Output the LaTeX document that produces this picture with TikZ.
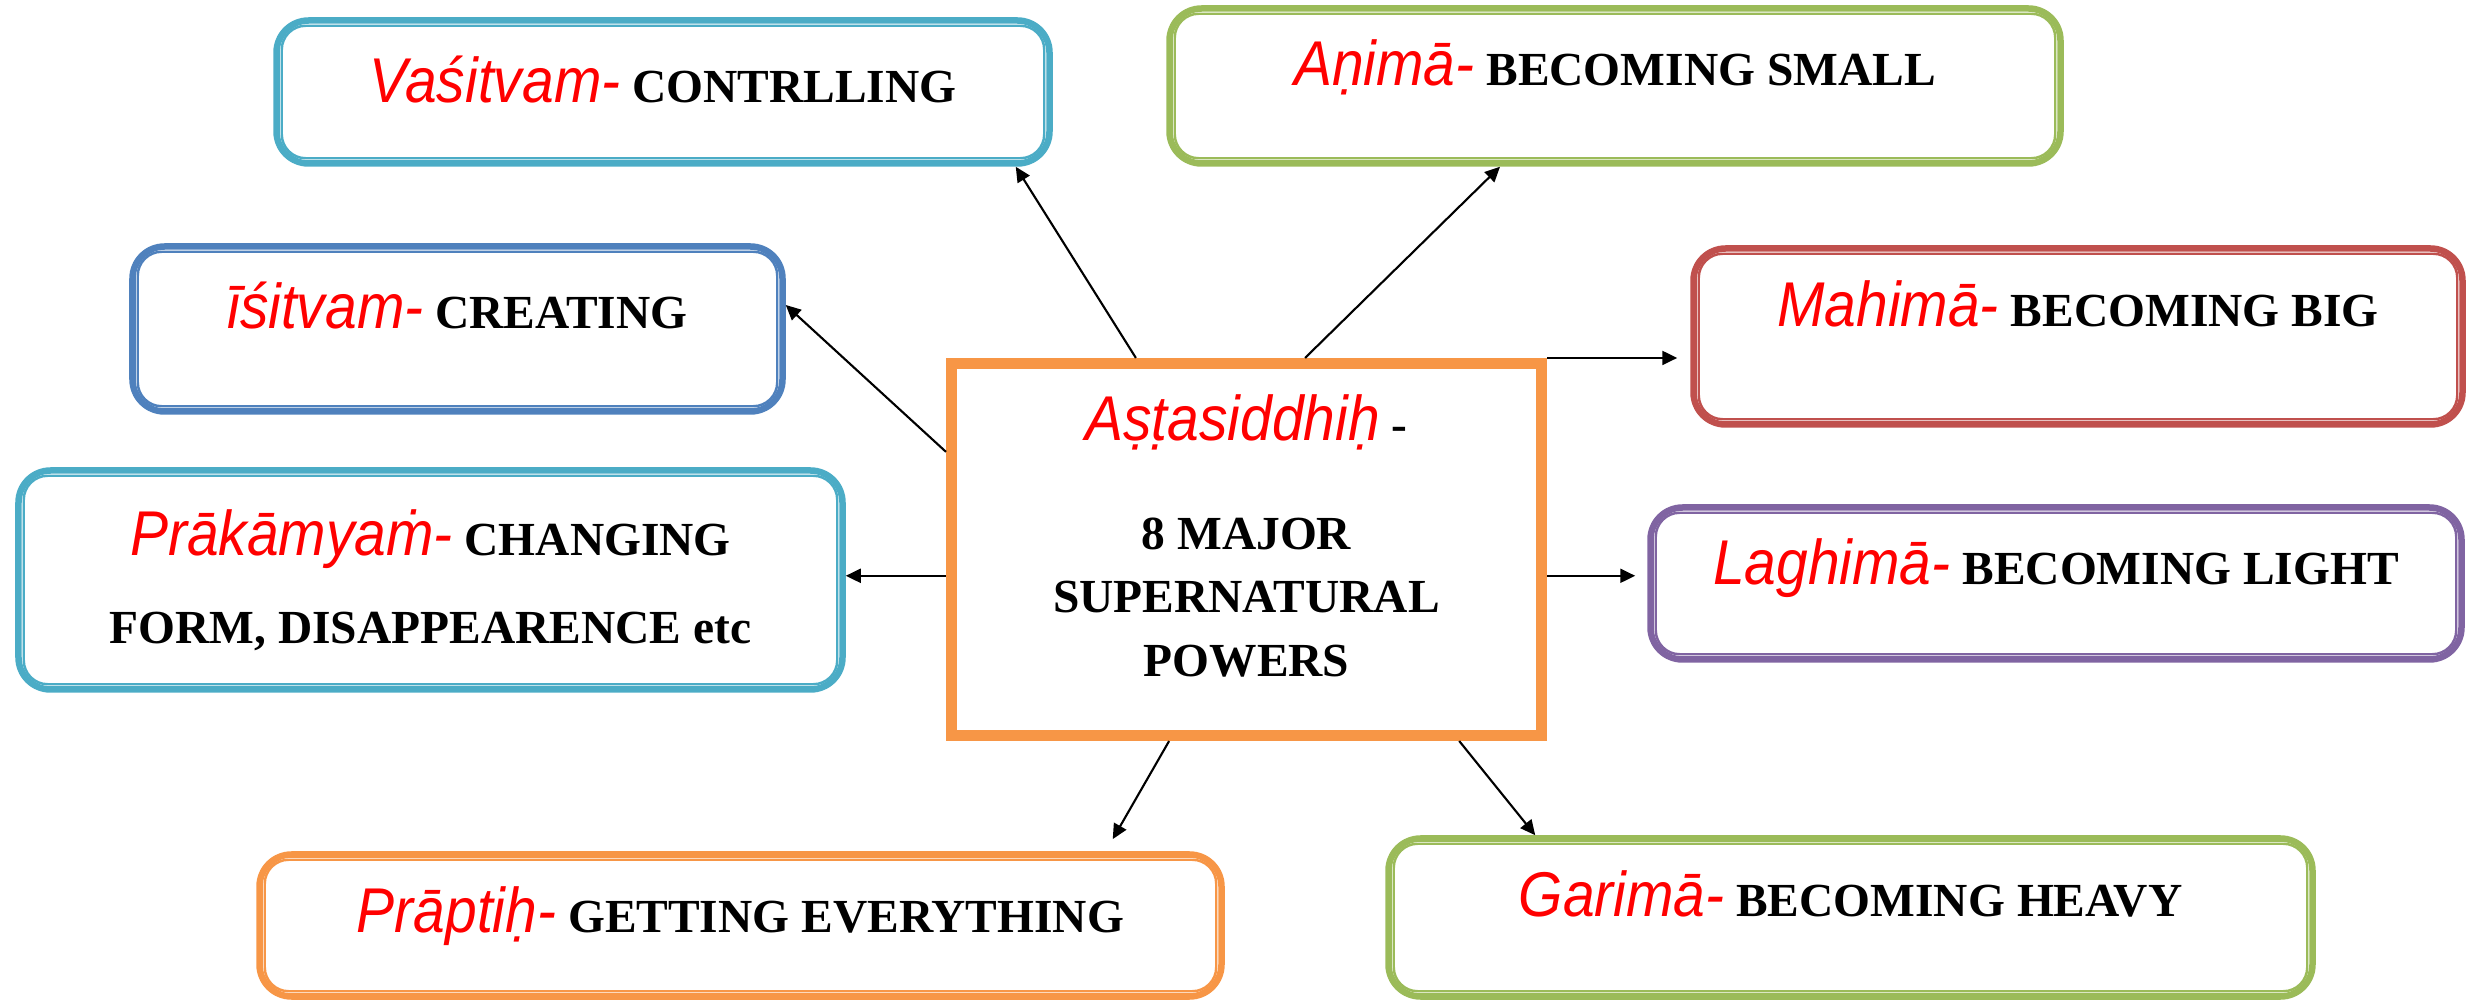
\documentclass[tikz,border=0pt]{standalone}
\usepackage{fontspec}
\setmainfont{Liberation Serif}
\newfontfamily\skt{Liberation Sans}[FakeStretch=0.9]
\usepackage{xcolor}
\usetikzlibrary{positioning,arrows.meta,calc}

\definecolor{cteal}{HTML}{4BACC6}
\definecolor{cblue}{HTML}{4F81BD}
\definecolor{cgreen}{HTML}{9BBB59}
\definecolor{cred}{HTML}{C0504D}
\definecolor{cviolet}{HTML}{8064A2}
\definecolor{corange}{HTML}{F79646}

\newcommand\skr[1]{{\skt\mdseries\itshape\fontsize{18}{18}\selectfont\color{red}#1}}

\begin{document}
\begin{tikzpicture}[
  power/.style={draw=#1, line width=1.85pt, rounded corners=0.32cm, fill=white,
                align=center, font=\fontsize{13.5}{18}\selectfont\bfseries},
  core/.style={draw=corange, line width=2.3pt, fill=white,
               align=center, font=\fontsize{13.5}{18}\selectfont\bfseries},
  lining/.style={draw=#1, line width=0.7pt, rounded corners=0.24cm},
  lift/.style={text height=0.45cm, text depth=#1},
  arr/.style={-{Triangle[length=1.5mm,width=1.4mm]}, line width=0.6pt},
]
\useasboundingbox (0,0) rectangle (24.84,10.01);

%% Centre
\node[core, minimum width=5.93cm, minimum height=3.75cm] (asta) at (12.465,4.515)
  {\skr{Aṣṭasiddhiḥ} -\\[13pt]8 MAJOR\\SUPERNATURAL\\POWERS\rule[-2.8mm]{0pt}{0pt}};

%% Powers
\node[power=cteal, lift=0.236cm, minimum width=7.73cm, minimum height=1.43cm]
  (vasi) at (6.63,9.09) {\skr{Vaśitvam-} CONTRLLING};
\node[power=cgreen, lift=0.456cm, minimum width=8.91cm, minimum height=1.55cm]
  (anima) at (16.15,9.15) {\skr{Aṇimā-} BECOMING SMALL};
\node[power=cblue, lift=0.456cm, minimum width=6.50cm, minimum height=1.65cm]
  (isit) at (4.575,6.72) {\skr{īśitvam-} CREATING};
\node[power=cred, lift=0.656cm, minimum width=7.69cm, minimum height=1.76cm]
  (mahima) at (20.78,6.645) {\skr{Mahimā-} BECOMING BIG};
\node[power=cteal, minimum width=8.24cm, minimum height=2.19cm]
  (prak) at (4.305,4.21) {\skr{Prākāmyaṁ-} CHANGING\\[7pt]FORM, DISAPPEARENCE etc};
\node[power=cviolet, lift=0.436cm, minimum width=8.11cm, minimum height=1.52cm]
  (laghima) at (20.56,4.175) {\skr{Laghimā-} BECOMING LIGHT};
\node[power=corange, lift=0.316cm, minimum width=9.62cm, minimum height=1.42cm]
  (prapti) at (7.405,0.755) {\skr{Prāptiḥ-} GETTING EVERYTHING};
\node[power=cgreen, lift=0.476cm, minimum width=9.24cm, minimum height=1.58cm]
  (garima) at (18.505,0.835) {\skr{Garimā-} BECOMING HEAVY};

%% Inner lines
\foreach \n/\c in {vasi/cteal, anima/cgreen, isit/cblue, mahima/cred,
                   prak/cteal, laghima/cviolet, prapti/corange, garima/cgreen}
  \draw[lining=\c] ($(\n.north west)+(0.085,-0.085)$) rectangle ($(\n.south east)+(-0.085,0.085)$);
\draw[corange, line width=0.7pt] ($(asta.north west)+(0.095,-0.095)$) rectangle ($(asta.south east)+(-0.095,0.095)$);

%% Arrows
\draw[arr] (asta.120) -- ($(vasi.south east)+(-0.37,0)$);
\draw[arr] (asta.73) -- ($(anima.south)+(-1.15,0)$);
\draw[arr] (asta.162) -- ($(isit.east)+(0,0.24)$);
\draw[arr, shorten >=1.3mm] (asta.north east) -- (asta.north east -| mahima.west);
\draw[arr] (asta.185) -- (asta.185 -| prak.east);
\draw[arr, shorten >=1.2mm] (asta.355) -- (asta.355 -| laghima.west);
\draw[arr, shorten >=1.4mm] (asta.248) -- ($(prapti.north east)+(-1.19,0)$);
\draw[arr] (asta.318) -- ($(garima.north west)+(1.5,0)$);

\end{tikzpicture}
\end{document}
